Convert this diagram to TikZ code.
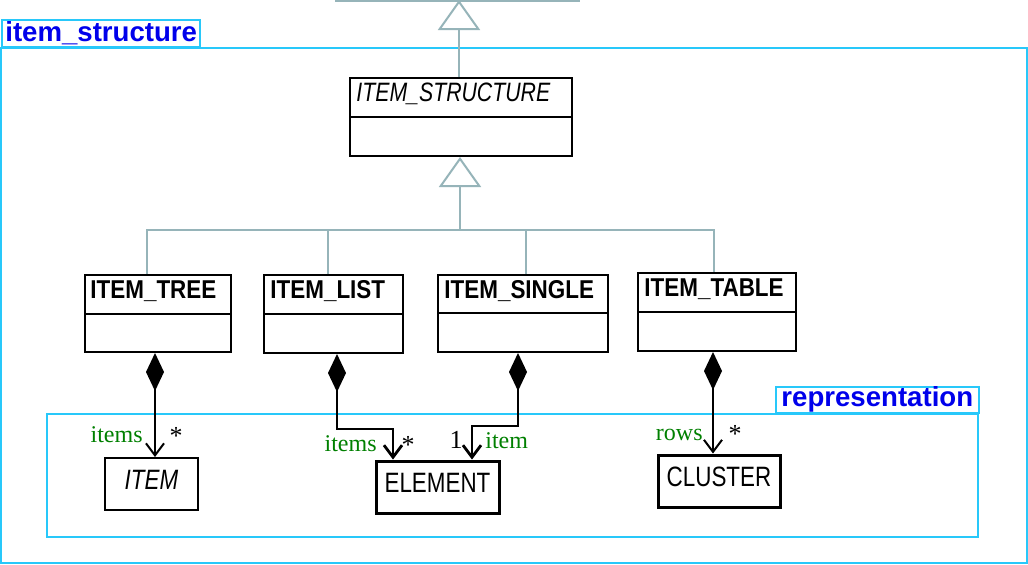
\documentclass[tikz,border=0pt]{standalone}
\usepackage{fontspec}
\setmainfont{Liberation Serif}
\setsansfont{Liberation Sans}
\newfontfamily\classfont[FakeStretch=0.87]{Liberation Sans}
\newfontfamily\objfont[FakeStretch=0.8]{Liberation Sans}
\usetikzlibrary{arrows.meta}
\definecolor{pkgcyan}{RGB}{40,200,250}
\definecolor{gengray}{RGB}{150,180,185}
\definecolor{pkgblue}{RGB}{0,0,235}
\definecolor{rolegreen}{RGB}{0,128,0}

\begin{document}
\begin{tikzpicture}[x=0.5pt, y=-0.5pt,
    classbox/.style={draw, line width=1pt, inner sep=0pt},
    classname/.style={font=\classfont\bfseries\fontsize{12.9}{14}\selectfont, anchor=base west, inner sep=0pt},
    objbox/.style={draw, line width=1.5pt, inner sep=0pt, text depth=4.5pt, font=\objfont\fontsize{14}{16}\selectfont},
    genline/.style={gengray, line width=1pt},
    gentip/.style={-{Triangle[open, length=15pt, width=21pt]}},
    comp/.style={line width=1pt, {Diamond[length=19pt, width=9pt]}-{Straight Barb[length=6pt, width=9pt]}},
    role/.style={text=rolegreen, font=\fontsize{12}{14}\selectfont, inner sep=0pt},
    mult/.style={font=\fontsize{13}{15}\selectfont, inner sep=0pt, anchor=base},
    pkgframe/.style={draw=pkgcyan, line width=1.2pt},
    pkglabel/.style={draw=pkgcyan, line width=1.2pt, text=pkgblue, inner sep=0pt, font=\sffamily\bfseries\fontsize{13.8}{15}\selectfont}]

    \fill[white] (0,0) rectangle (1028,564);
    \useasboundingbox (0,0) rectangle (1028,564);

    % Packages
    \draw[pkgframe] (1,48) rectangle (1027,563);
    \node[pkglabel, anchor=south west, minimum width=99pt, minimum height=13.5pt] (structpkg) at (1,48) {item\_structure};
    \draw[pkgframe] (47,414) rectangle (978,537);
    \node[pkglabel, anchor=south east, minimum width=101.5pt, minimum height=13pt] (reprpkg) at (980,414) {representation};

    % Classes
    \node[classbox, minimum width=111pt, minimum height=39pt] (struct) at (461,117) {};
    \node[classbox, minimum width=73pt, minimum height=38.5pt] (tree) at (158,313.5) {};
    \node[classbox, minimum width=69.5pt, minimum height=39pt] (list) at (333.5,314) {};
    \node[classbox, minimum width=85pt, minimum height=38.5pt] (single) at (523,313.5) {};
    \node[classbox, minimum width=79pt, minimum height=39pt] (table) at (717,312) {};
    \foreach \n/\y in {struct/117, tree/314, list/314, single/313, table/312}
        \draw[line width=1pt] (\n.west |- 0,\y) -- (\n.east |- 0,\y);

    \node[classname, font=\objfont\itshape\fontsize{13.3}{15}\selectfont] (structname) at ([xshift=3.5pt, yshift=-12pt]struct.north west) {ITEM\_STRUCTURE};
    \node[classname] (treename) at ([xshift=3pt, yshift=-12pt]tree.north west) {ITEM\_TREE};
    \node[classname] (listname) at ([xshift=3.5pt, yshift=-12pt]list.north west) {ITEM\_LIST};
    \node[classname] (singlename) at ([xshift=3.5pt, yshift=-12pt]single.north west) {ITEM\_SINGLE};
    \node[classname] (tablename) at ([xshift=3.5pt, yshift=-12pt]table.north west) {ITEM\_TABLE};

    \node[objbox, line width=1pt, font=\objfont\itshape\fontsize{14}{16}\selectfont, minimum width=46.5pt, minimum height=26pt] (item) at (151.5,484) {ITEM};
    \node[objbox, minimum width=61.5pt, minimum height=26pt] (element) at (437.5,487) {ELEMENT};
    \node[objbox, minimum width=61pt, minimum height=26pt] (cluster) at (719,481) {CLUSTER};

    % Inheritance
    \coordinate (parent) at (459,0);
    \coordinate (cutleft) at (335,1);
    \coordinate (cutright) at (580,1);
    \coordinate (bus) at (460,230);
    \draw[genline] (cutleft) -- (cutright);
    \draw[genline, gentip] (parent |- struct.north) -- (parent);
    \draw[genline, gentip] (bus) -- (bus |- struct.south);
    \coordinate (listtop) at ([xshift=-2.75pt]list.north);
    \coordinate (singletop) at ([xshift=1.5pt]single.north);
    \draw[genline] ([xshift=-5.5pt]tree.north) |- (bus);
    \draw[genline] ([xshift=-1.5pt]table.north) |- (bus);
    \draw[genline] (listtop) -- (listtop |- bus);
    \draw[genline] (singletop) -- (singletop |- bus);

    % Compositions
    \coordinate (treefoot) at ([xshift=-1.5pt]tree.south);
    \coordinate (tablefoot) at ([xshift=-2pt]table.south);
    \draw[comp] (treefoot) -- (treefoot |- item.north);
    \draw[comp, line width=1.4pt] ([xshift=1.75pt]list.south) -- ++(0,75) -| ([xshift=-22.25pt]element.north);
    \draw[comp, line width=1.4pt] ([xshift=-2.5pt]single.south) -- ++(0,73) -| ([xshift=17.25pt]element.north);
    \draw[comp] (tablefoot) -- (tablefoot |- cluster.north);

    % Roles and multiplicities
    \node[role, anchor=base east] (treerole) at (143,442) {items};
    \node[mult] (treemult) at (176,444) {*};
    \node[role, anchor=base east] (listrole) at (377,451) {items};
    \node[mult] (listmult) at (408,453) {*};
    \node[mult] (singlemult) at (456,448) {1};
    \node[role, anchor=base west] (singlerole) at (485,448) {item};
    \node[role, anchor=base east] (tablerole) at (703,440) {rows};
    \node[mult] (tablemult) at (735,442) {*};
\end{tikzpicture}
\end{document}
